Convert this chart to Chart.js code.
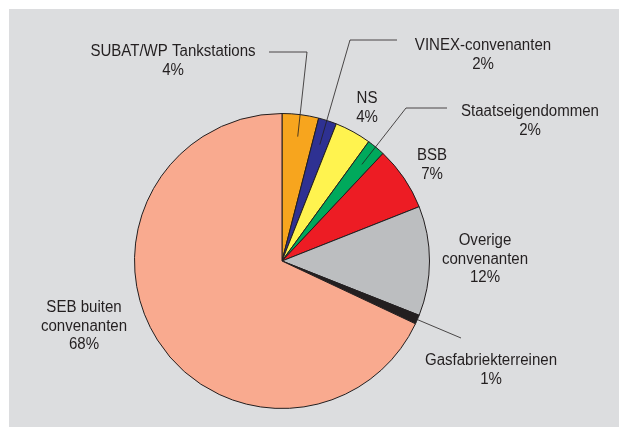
<!DOCTYPE html>
<html>
<head>
<meta charset="utf-8">
<script src="https://cdn.jsdelivr.net/npm/chart.js@4/dist/chart.umd.min.js"></script>
<style>
    html, body { margin: 0; padding: 0; background: #ffffff; }
    canvas { display: block; }
</style>
</head>
<body>
<canvas id="pieChart" width="619" height="427"></canvas>
<script>
// Slices in clockwise order, starting at 12 o'clock
const categories = [
    ['SUBAT/WP Tankstations'],
    ['VINEX-convenanten'],
    ['NS'],
    ['Staatseigendommen'],
    ['BSB'],
    ['Overige', 'convenanten'],
    ['Gasfabriekterreinen'],
    ['SEB buiten', 'convenanten']
];
const shares = [4, 2, 4, 2, 7, 12, 1, 68];
const sliceColors = ['#f7a51e', '#2e3192', '#fff34f', '#00a95c', '#ed1c24', '#bcbec0', '#231f20', '#f9aa8f'];

// Where each label sits (centre x, first baseline) and the bend points of its leader line
const labelPos = [[173, 56], [483, 50], [367, 103], [530, 116], [432, 160], [485, 245], [491, 365], [84, 312]];
const leaders = {
    0: { bends: [[269, 52], [307, 52]], depth: 0.85 },
    1: { bends: [[397, 40], [350, 40]], depth: 0.83 },
    3: { bends: [[447, 108], [406, 108]], depth: 0.85 },
    6: { bends: [[461, 338]], depth: 1.0 }
};

const panelBackground = {
    id: 'panelBackground',
    beforeDraw(chart) {
        const c = chart.ctx;
        c.save();
        c.fillStyle = '#dcdddf';
        c.fillRect(9, 9, chart.width - 9, chart.height - 9);
        c.restore();
    }
};

const sliceLabels = {
    id: 'sliceLabels',
    afterDraw(chart) {
        const c = chart.ctx;
        const arcs = chart.getDatasetMeta(0).data;
        c.save();

        // leader lines from the middle of a slice out to its label
        c.strokeStyle = '#231f20';
        c.lineWidth = 0.8;
        Object.keys(leaders).forEach(k => {
            const arc = arcs[k];
            const p = arc.getProps(['x', 'y', 'startAngle', 'endAngle', 'outerRadius'], true);
            const mid = (p.startAngle + p.endAngle) / 2;
            const r = p.outerRadius * leaders[k].depth;
            c.beginPath();
            leaders[k].bends.forEach((b, j) => j === 0 ? c.moveTo(b[0], b[1]) : c.lineTo(b[0], b[1]));
            c.lineTo(p.x + Math.cos(mid) * r, p.y + Math.sin(mid) * r);
            c.stroke();
        });

        // names and percentages
        c.fillStyle = '#231f20';
        c.font = '16px "Liberation Sans", Arial, sans-serif';
        c.textAlign = 'center';
        c.textBaseline = 'alphabetic';
        categories.forEach((name, i) => {
            const lines = name.concat([shares[i] + '%']);
            lines.forEach((txt, j) => {
                c.save();
                c.translate(labelPos[i][0], labelPos[i][1] + j * 18.5);
                c.scale(0.94, 1);
                c.fillText(txt, 0, 0);
                c.restore();
            });
        });
        c.restore();
    }
};

new Chart(document.getElementById('pieChart'), {
    type: 'pie',
    data: {
        labels: categories.map(n => n.join(' ')),
        datasets: [{
            data: shares,
            backgroundColor: sliceColors,
            borderColor: '#231f20',
            borderWidth: 1
        }]
    },
    options: {
        responsive: false,
        animation: false,
        layout: { padding: { left: 134, right: 189, top: 113, bottom: 18 } },
        plugins: {
            legend: { display: false },
            tooltip: { enabled: false }
        }
    },
    plugins: [panelBackground, sliceLabels]
});
</script>
</body>
</html>
